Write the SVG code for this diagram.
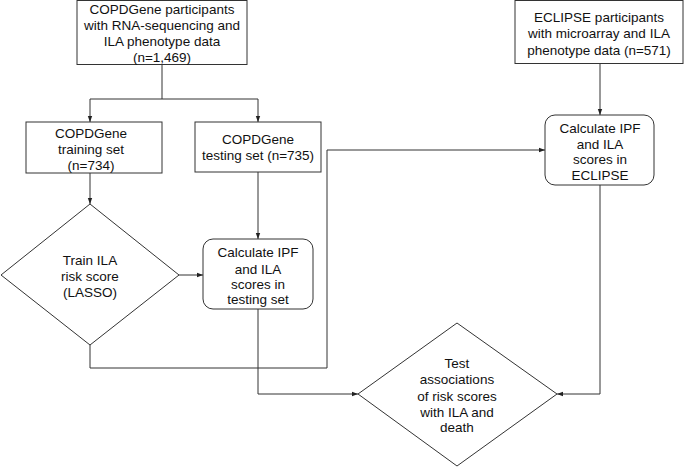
<svg xmlns="http://www.w3.org/2000/svg" width="685" height="467" viewBox="0 0 685 467">
<style>
.n{fill:#fff;stroke:#333;stroke-width:1}
.t{font-family:"Liberation Sans",Arial,sans-serif;font-size:13.5px;fill:#111;text-anchor:middle}
.c{fill:none;stroke:#333;stroke-width:1}
</style>
<defs>
<marker id="a" viewBox="0 0 6 6" refX="6" refY="3" markerWidth="6" markerHeight="6" markerUnits="userSpaceOnUse" orient="auto">
<path d="M0,0.8 L6,3 L0,5.2 z" fill="#222"/>
</marker>
</defs>
<rect width="685" height="467" fill="#fff"/>
<g id="connectors">
<path class="c" d="M162,64 V99"/>
<path class="c" d="M90,99 H258"/>
<path class="c" d="M90,99 V122" marker-end="url(#a)"/>
<path class="c" d="M258,99 V122" marker-end="url(#a)"/>
<path class="c" d="M90,173 V204" marker-end="url(#a)"/>
<path class="c" d="M258,172 V239" marker-end="url(#a)"/>
<path class="c" d="M179,275 H203" marker-end="url(#a)"/>
<path class="c" d="M90,345 V368 H327 V150 H545" marker-end="url(#a)"/>
<path class="c" d="M600,63 V115" marker-end="url(#a)"/>
<path class="c" d="M258,309 V394 H358" marker-end="url(#a)"/>
<path class="c" d="M600,185 V394 H557" marker-end="url(#a)"/>
</g>
<g id="copdgene">
<rect class="n" x="77" y="0.5" width="170" height="64"/>
<text class="t" x="162" y="14">COPDGene participants</text>
<text class="t" x="162" y="30">with RNA-sequencing and</text>
<text class="t" x="162" y="46">ILA phenotype data</text>
<text class="t" x="162" y="62">(n=1,469)</text>
</g>
<g id="training">
<rect class="n" x="26" y="122" width="136" height="51"/>
<text class="t" x="91" y="138">COPDGene</text>
<text class="t" x="91" y="154">training set</text>
<text class="t" x="91" y="170">(n=734)</text>
</g>
<g id="testing">
<rect class="n" x="195" y="122" width="126" height="50"/>
<text class="t" x="258" y="144">COPDGene</text>
<text class="t" x="258" y="160">testing set (n=735)</text>
</g>
<g id="train-ila">
<polygon class="n" points="90,204 179,275 90,345 1,275"/>
<text class="t" x="90" y="265">Train ILA</text>
<text class="t" x="90" y="281">risk score</text>
<text class="t" x="90" y="297">(LASSO)</text>
</g>
<g id="calc-testing">
<rect class="n" x="203" y="239" width="110" height="70" rx="10"/>
<text class="t" x="258" y="257">Calculate IPF</text>
<text class="t" x="258" y="274">and ILA</text>
<text class="t" x="258" y="289">scores in</text>
<text class="t" x="258" y="304">testing set</text>
</g>
<g id="eclipse">
<rect class="n" x="515" y="0.5" width="168" height="63"/>
<text class="t" x="599" y="22">ECLIPSE participants</text>
<text class="t" x="599" y="38">with microarray and ILA</text>
<text class="t" x="599" y="55">phenotype data (n=571)</text>
</g>
<g id="calc-eclipse">
<rect class="n" x="545" y="115" width="109" height="70" rx="10"/>
<text class="t" x="600" y="133">Calculate IPF</text>
<text class="t" x="600" y="149">and ILA</text>
<text class="t" x="600" y="164">scores in</text>
<text class="t" x="600" y="180">ECLIPSE</text>
</g>
<g id="test-assoc">
<polygon class="n" points="457,323 557,394 457,466 358,394"/>
<text class="t" x="457" y="368">Test</text>
<text class="t" x="457" y="384">associations</text>
<text class="t" x="457" y="401">of risk scores</text>
<text class="t" x="457" y="417">with ILA and</text>
<text class="t" x="457" y="432">death</text>
</g>
</svg>
